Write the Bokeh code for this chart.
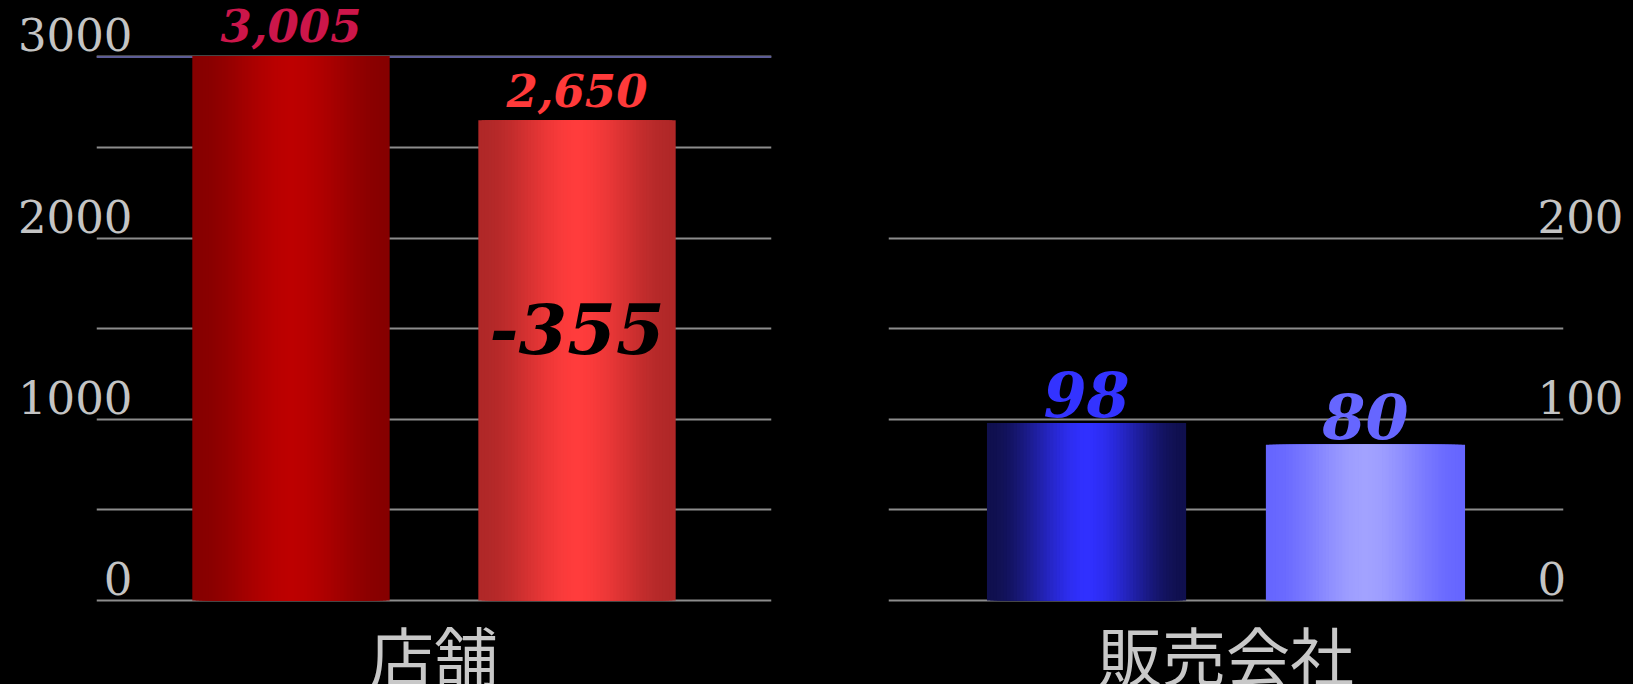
from bokeh.plotting import figure
from bokeh.models import (ColumnDataSource, FactorRange, Range1d, FixedTicker, Span, Label,
                          GlobalInlineStyleSheet)
from bokeh.layouts import row
from bokeh.core.properties import value
from bokeh.embed import file_html
from bokeh.resources import INLINE

# ---------------- data ----------------
periods = ["前期", "今期"]
store_category = "店舗"
store_values = [3005, 2650]
store_labels = ["3,005", "2,650"]
store_ticks = [0, 1000, 2000, 3000]

sales_category = "販売会社"
sales_values = [98, 86]
sales_labels = ["98", "80"]
sales_ticks = [0, 100, 200]

# ---------------- styles ----------------
store_edge = ["#860000", "#b02828"]
store_center = ["#bd0000", "#ff3c3c"]
store_label_colors = ["#cc164a", "#ff3a3a"]
sales_edge = ["#10104e", "#6666ff"]
sales_center = ["#3030ff", "#a2a2ff"]
sales_label_colors = ["#3333ff", "#6666ff"]

BG = "#000000"
GRID = "#8c8c8c"
TICK_COLOR = "#c4c4c4"
CAT_COLOR = "#c8c8c8"
SERIF = "DejaVu Serif"
CJK = "Noto Sans CJK JP"
HEIGHT = 684
ZERO_PX = 600           # px position of value 0
LAYERS = 30
TICK_LIFT = 22          # tick labels sit above their grid line (px)
CAT_CENTER = 52         # category label centre below zero line (px)


def mix(c1, c2, t):
    a = [int(c1[i:i + 2], 16) for i in (1, 3, 5)]
    b = [int(c2[i:i + 2], 16) for i in (1, 3, 5)]
    return "#%02x%02x%02x" % tuple(round(x + (y - x) * t) for x, y in zip(a, b))


def panel(category, values, labels, ticks, grid_step, k, edges, centers,
          label_colors, label_size, label_offset, side, width, border_l, border_r,
          standoff, pad, bar_w):
    y_range = Range1d(-(HEIGHT - ZERO_PX) / k, ZERO_PX / k)
    p = figure(x_range=FactorRange(*periods, range_padding=pad), y_range=y_range,
               width=width, height=HEIGHT, output_backend="svg", toolbar_location=None,
               x_axis_location=None, y_axis_location=side,
               background_fill_color=BG, border_fill_color=BG,
               outline_line_color=None, min_border_left=border_l, min_border_right=border_r,
               min_border_top=0, min_border_bottom=0)
    p.xgrid.visible = False
    p.ygrid.ticker = FixedTicker(ticks=list(range(0, ticks[-1] + 1, grid_step)))
    p.ygrid.grid_line_color = GRID
    p.ygrid.grid_line_width = 2

    src = ColumnDataSource(dict(x=periods, top=values, label=labels, lc=label_colors))
    for i in range(LAYERS):
        t = i / LAYERS
        g = t * t * (3 - 2 * t)
        src.data["c%d" % i] = [mix(e, c, g) for e, c in zip(edges, centers)]
    for i in range(LAYERS):
        d = 1 - i / LAYERS
        p.vbar(x="x", top="top", bottom=0, width=bar_w * d, source=src,
               fill_color="c%d" % i, line_color=None)

    p.text(x="x", y="top", text="label", source=src, text_color="lc",
           text_font=value(SERIF), text_font_style="bold italic",
           text_font_size=label_size, text_align="center", text_baseline="middle",
           y_offset=label_offset)

    # tick labels sit just above their grid lines
    lift = round(TICK_LIFT / k)
    ay = p.yaxis[0]
    ay.ticker = FixedTicker(ticks=[t + lift for t in ticks])
    ay.major_label_overrides = {t + lift: str(t) for t in ticks}
    ay.axis_line_color = None
    ay.major_tick_line_color = None
    ay.minor_tick_line_color = None
    ay.major_tick_out = 0
    ay.major_tick_in = 0
    ay.major_label_text_font = SERIF
    ay.major_label_text_font_size = "45px"
    ay.major_label_text_color = TICK_COLOR
    ay.major_label_standoff = standoff

    cat = Label(x=len(periods) / 2, y=-CAT_CENTER / k, text=category,
                text_font=CJK, text_font_size="64px", text_color=CAT_COLOR,
                text_align="center", text_baseline="middle")
    p.add_layout(cat)
    return p


k_store = 0.1812
k_sales = 1.812
p1 = panel(store_category, store_values, store_labels, store_ticks, 500, k_store,
           store_edge, store_center, store_label_colors, "45px", -30, "left",
           828, 96, 57, -36, 0.18, 0.69)
ref = Span(location=store_ticks[-1], dimension="width", line_color="#5c5c96",
           line_width=2, level="underlay")
p1.add_layout(ref)
diff = store_values[1] - store_values[0]
p1.text(x=[periods[1]], y=[store_values[0] / 2], text=["%d" % diff], text_color="#000000",
        text_font=value(SERIF), text_font_style="bold italic", text_font_size="70px",
        text_align="center", text_baseline="middle")

p2 = panel(sales_category, sales_values, sales_labels, sales_ticks, 50, k_sales,
           sales_edge, sales_center, sales_label_colors, "62px", -28, "right",
           805, 60, 70, -26, 0.21, 0.714)

layout = row(p1, p2)
layout.stylesheets = [GlobalInlineStyleSheet(css="html, body { background-color: #000000; }")]

open("out.html", "w").write(file_html(layout, INLINE))
